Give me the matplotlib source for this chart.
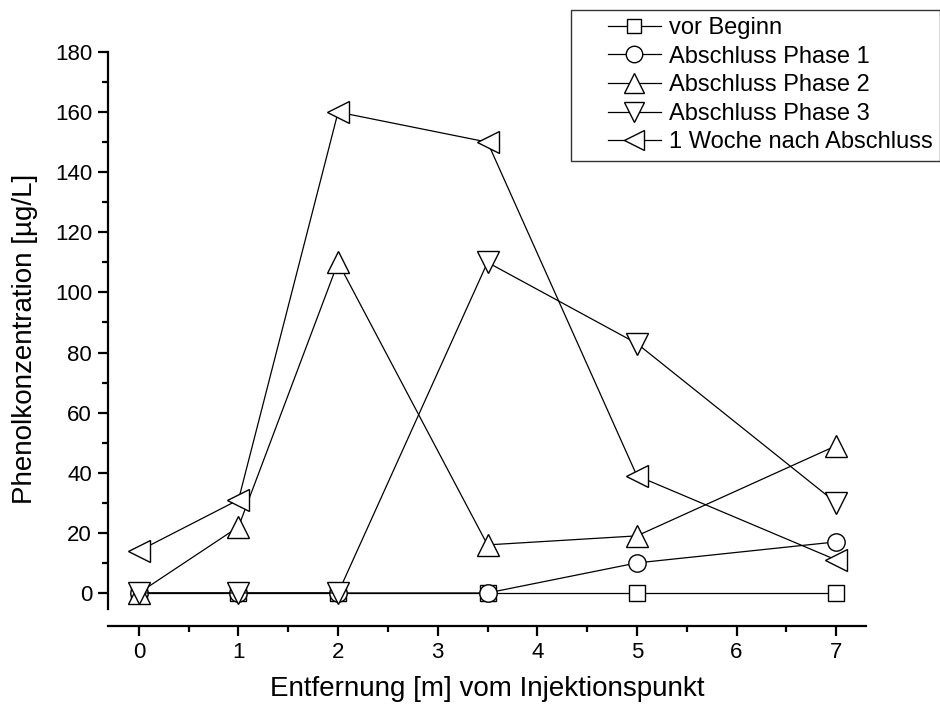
import matplotlib.pyplot as plt
from matplotlib.lines import Line2D
from matplotlib.legend_handler import HandlerLine2D
from matplotlib.ticker import MultipleLocator, FixedLocator

plt.rcParams['font.family'] = ['Liberation Sans', 'DejaVu Sans']

# distance from injection point [m]
entfernung = [0, 1, 2, 3.5, 5, 7]

vor_beginn = [0, 0, 0, 0, 0, 0]
phase1 = [0, 0, 0, 0, 10, 17]
phase2 = [0, 22, 110, 16, 19, 49]
phase3 = [0, 0, 0, 110, 83, 30]
woche_nach = [14, 31, 160, 150, 39, 11]

labels = ['vor Beginn', 'Abschluss Phase 1', 'Abschluss Phase 2',
          'Abschluss Phase 3', '1 Woche nach Abschluss']
markers = ['s', 'o', '^', 'v', '<']
sizes = [11, 12.5, 15.5, 15.5, 15.5]

fig = plt.figure(figsize=(9.4, 7.11), dpi=100)
ax = fig.add_axes([0.1149, 0.1195, 0.8064, 0.8074])

for y, lab, m, ms in zip([vor_beginn, phase1, phase2, phase3, woche_nach],
                         labels, markers, sizes):
    ax.plot(entfernung, y, color='black', lw=0.9, marker=m, ms=ms,
            mfc='white', mec='black', mew=1.0, label=lab)

ax.set_xlim(-0.31, 7.3)
ax.set_ylim(-11, 180)
ax.spines['top'].set_visible(False)
ax.spines['right'].set_visible(False)
ax.spines['left'].set_bounds(-5.3, 180)
ax.spines['left'].set_linewidth(1.6)
ax.spines['bottom'].set_linewidth(1.6)

ax.xaxis.set_major_locator(MultipleLocator(1))
ax.xaxis.set_minor_locator(MultipleLocator(0.5))
ax.yaxis.set_major_locator(FixedLocator(range(0, 181, 20)))
ax.yaxis.set_minor_locator(FixedLocator(range(10, 180, 20)))
ax.tick_params(which='major', direction='out', length=7.5, width=1.6,
               labelsize=16, pad=4)
ax.tick_params(which='minor', direction='out', length=4.5, width=1.6)

ax.set_xlabel('Entfernung [m] vom Injektionspunkt', fontsize=20, labelpad=9)
ax.set_ylabel('Phenolkonzentration [µg/L]', fontsize=20, labelpad=12)

# legend handles: short line segment, shifted right inside the box
leg = fig.legend(loc='upper right', bbox_to_anchor=(1.0, 0.986),
                 fontsize=17, frameon=True, fancybox=False,
                 edgecolor='black', handlelength=3.5, labelspacing=0.28,
                 handletextpad=0.34, borderpad=0.3, markerscale=0.95,
                 borderaxespad=0,
                 handler_map={Line2D: HandlerLine2D(xpad=1.23)})
leg.get_frame().set_linewidth(1.0)

fig.savefig('out.png', dpi=100)
